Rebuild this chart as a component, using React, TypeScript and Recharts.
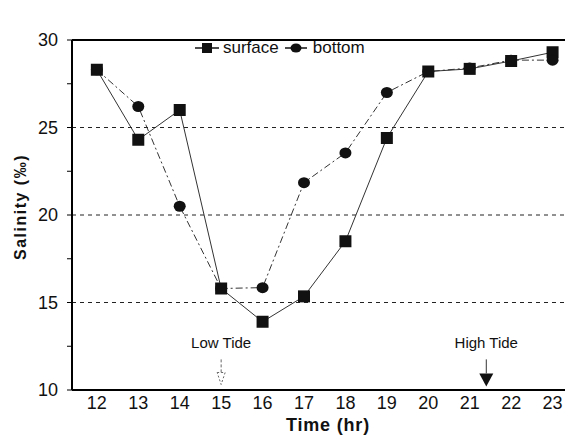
import { LineChart, Line, XAxis, YAxis, ReferenceLine, ReferenceDot, Legend, Label } from "recharts";

const hours = [12, 13, 14, 15, 16, 17, 18, 19, 20, 21, 22, 23];
const surface = [28.3, 24.3, 26.0, 15.8, 13.9, 15.35, 18.5, 24.4, 28.2, 28.35, 28.8, 29.3];
const bottom = [28.3, 26.2, 20.5, 15.8, 15.85, 21.85, 23.55, 27.0, 28.2, 28.4, 28.85, 28.85];
const yTicks = [10, 12.5, 15, 17.5, 20, 22.5, 25, 27.5, 30];
const gridValues = [15, 20, 25];
const lowTide = 15;
const highTide = 21.4;

const data = hours.map((h, i) => ({ hour: h, surface: surface[i], bottom: bottom[i] }));

const FONT = "Arial, Liberation Sans, sans-serif";

const SquareDot = (p: any) => (
  <rect key={`s-${p.index}`} x={p.cx - 6} y={p.cy - 6} width={12} height={12} fill="#111" />
);
const RoundDot = (p: any) => (
  <ellipse key={`b-${p.index}`} cx={p.cx} cy={p.cy} rx={6} ry={5.5} fill="#111" />
);

function LegendBox() {
  return (
    <div style={{ display: "flex", alignItems: "center", fontFamily: FONT, fontSize: 17, color: "#111" }}>
      <svg width={24} height={12}>
        <line x1={0} y1={6} x2={24} y2={6} stroke="#111" strokeWidth={1.5} />
        <rect x={7} y={1} width={10} height={10} fill="#111" />
      </svg>
      <span style={{ marginLeft: 4, marginRight: 6 }}>surface</span>
      <svg width={22} height={12}>
        <line x1={0} y1={6} x2={22} y2={6} stroke="#111" strokeWidth={1.5} />
        <ellipse cx={11} cy={6} rx={5.5} ry={4.5} fill="#111" />
      </svg>
      <span style={{ marginLeft: 6 }}>bottom</span>
    </div>
  );
}

const tideLabel = (value: string) => ({
  value,
  position: "center" as const,
  fill: "#111",
  fontSize: 15,
  fontFamily: FONT,
});

const filledHead = (p: any) => (
  <path d={`M${p.cx - 7},${p.cy} L${p.cx + 7},${p.cy} L${p.cx},${p.cy + 13} Z`} fill="#111" />
);
const hollowHead = (p: any) => (
  <path
    d={`M${p.cx - 4},${p.cy} L${p.cx + 4},${p.cy} L${p.cx},${p.cy + 12} Z`}
    fill="none"
    stroke="#666"
    strokeWidth={1}
    strokeDasharray="2 2"
  />
);

export default function App() {
  return (
    <div style={{ position: "absolute", left: 0, top: 0, background: "#fff", fontFamily: FONT }}>
      <LineChart width={573} height={436} data={data} margin={{ top: 20, right: 8, bottom: 0, left: 0 }}>
        <XAxis
          dataKey="hour"
          type="number"
          domain={[11.4, 23.3]}
          ticks={hours}
          allowDataOverflow
          height={46}
          axisLine={{ stroke: "#000", strokeWidth: 2 }}
          tickLine={false}
          tickSize={0}
          tickMargin={6}
          tick={{ fill: "#111", fontSize: 18, fontFamily: FONT }}
        >
          <Label
            content={() => (
              <text
                x={328}
                y={425}
                textAnchor="middle"
                dominantBaseline="central"
                style={{ fontFamily: FONT, fontWeight: "bold", fontSize: 18, letterSpacing: 0.8 }}
                fill="#111"
              >
                Time (hr)
              </text>
            )}
          />
        </XAxis>
        <YAxis
          type="number"
          domain={[10, 30]}
          ticks={yTicks}
          interval={0}
          width={72}
          axisLine={{ stroke: "#000", strokeWidth: 2 }}
          tickLine={{ stroke: "#000" }}
          tickSize={5}
          tickMargin={9}
          tickFormatter={(v: number) => (v % 5 === 0 ? String(v) : "")}
          tick={{ fill: "#111", fontSize: 18, fontFamily: FONT }}
        >
          <Label
            content={() => (
              <text
                x={20}
                y={207}
                transform="rotate(-90, 20, 207)"
                textAnchor="middle"
                dominantBaseline="central"
                style={{ fontFamily: FONT, fontWeight: "bold", fontSize: 16, letterSpacing: 1.5 }}
                fill="#111"
              >
                Salinity (‰)
              </text>
            )}
          />
        </YAxis>
        {gridValues.map((v) => (
          <ReferenceLine key={v} y={v} stroke="#222" strokeWidth={1} strokeDasharray="4 4" />
        ))}
        <ReferenceLine y={30} stroke="#000" strokeWidth={2} />
        <Legend verticalAlign="top" content={() => <LegendBox />} wrapperStyle={{ top: 38, left: 195, width: "auto" }} />

        <ReferenceDot x={lowTide} y={12.68} r={0} fill="none" stroke="none" label={tideLabel("Low Tide")} />
        <ReferenceDot x={highTide} y={12.68} r={0} fill="none" stroke="none" label={tideLabel("High Tide")} />
        <ReferenceLine segment={[{ x: lowTide, y: 11.75 }, { x: lowTide, y: 11.0 }]} stroke="#666" strokeDasharray="3 2" />
        <ReferenceDot x={lowTide} y={11.0} r={0} shape={hollowHead} />
        <ReferenceLine segment={[{ x: highTide, y: 11.75 }, { x: highTide, y: 10.95 }]} stroke="#333" />
        <ReferenceDot x={highTide} y={10.95} r={0} shape={filledHead} />

        <Line
          dataKey="surface"
          stroke="#333"
          strokeWidth={1}
          dot={SquareDot}
          activeDot={false}
          isAnimationActive={false}
        />
        <Line
          dataKey="bottom"
          stroke="#333"
          strokeWidth={1}
          strokeDasharray="7 3 2 3"
          dot={RoundDot}
          activeDot={false}
          isAnimationActive={false}
        />
      </LineChart>
    </div>
  );
}
